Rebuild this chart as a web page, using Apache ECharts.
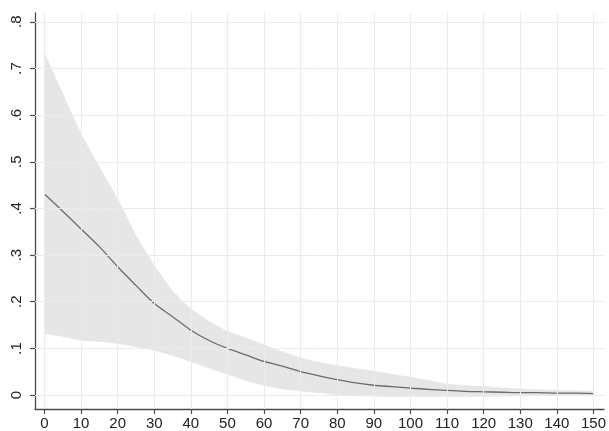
<!DOCTYPE html>
<html>
<head>
<meta charset="utf-8">
<script src="https://cdn.jsdelivr.net/npm/echarts@6/dist/echarts.min.js"></script>
<style>
html,body{margin:0;padding:0;background:#fff;}
#chart{width:609px;height:431px;}
</style>
</head>
<body>
<div id="chart"></div>
<script>
// x positions (every 5 units)
var xValues = [0,5,10,15,20,25,30,35,40,45,50,55,60,65,70,75,80,85,90,95,100,105,110,115,120,125,130,135,140,145,150];
// point estimate
var estimate = [0.431,0.394,0.356,0.318,0.275,0.235,0.196,0.168,0.139,0.117,0.100,0.086,0.072,0.062,0.050,0.041,0.033,0.026,0.021,0.018,0.015,0.012,0.010,0.008,0.007,0.006,0.005,0.005,0.004,0.004,0.003];
// upper confidence bound
var upperCI = [0.733,0.645,0.559,0.488,0.420,0.341,0.277,0.222,0.184,0.157,0.136,0.122,0.107,0.093,0.079,0.070,0.063,0.057,0.051,0.044,0.038,0.031,0.023,0.020,0.018,0.015,0.013,0.011,0.010,0.009,0.008];
// lower confidence bound
var lowerCI = [0.132,0.126,0.117,0.115,0.111,0.104,0.096,0.085,0.072,0.058,0.045,0.031,0.021,0.013,0.009,0.005,0.001,-0.001,-0.002,-0.003,-0.003,-0.003,-0.003,-0.003,-0.003,-0.002,-0.002,-0.001,-0.001,0,0];
// tick values and labels
var xTicks = [0,10,20,30,40,50,60,70,80,90,100,110,120,130,140,150];
var xTickLabels = ['0','10','20','30','40','50','60','70','80','90','100','110','120','130','140','150'];
var yTicks = [0,0.1,0.2,0.3,0.4,0.5,0.6,0.7,0.8];
var yTickLabels = ['0','.1','.2','.3','.4','.5','.6','.7','.8'];

var bandData = xValues.map(function(x,i){ return [x, lowerCI[i], upperCI[i]]; });
var estData = xValues.map(function(x,i){ return [x, estimate[i]]; });

var gridCol = '#ebebeb';
var gridLines = xTicks.map(function(v){ return {xAxis: v}; }).concat(yTicks.map(function(v){ return {yAxis: v}; }));

var bandCol = '#e6e6e6';
function renderBand(params, api){
  var i = params.dataIndex;
  if (i >= bandData.length - 1) return null;
  var a = bandData[i], b = bandData[i+1];
  var pts = [
    api.coord([a[0], a[2]]), api.coord([b[0], b[2]]),
    api.coord([b[0], b[1]]), api.coord([a[0], a[1]])
  ];
  return {
    type: 'polygon',
    shape: {points: pts},
    style: {fill: bandCol, stroke: bandCol, lineWidth: 0.8}
  };
}

var axisCol = '#4a4a4a';
var chart = echarts.init(document.getElementById('chart'), null, {renderer:'canvas'});
chart.setOption({
  animation: false,
  backgroundColor: '#ffffff',
  grid: {left: 35, right: 2, top: 13, bottom: 20, containLabel: false},
  xAxis: {
    type: 'value', min: -2.58, max: 152.85,
    axisLine: {show: true, onZero: false, lineStyle: {color: axisCol, width: 1.3}},
    axisTick: {show: true, length: 5, customValues: xTicks, lineStyle: {color: axisCol, width: 1.2}},
    axisLabel: {show: true, customValues: xTicks, margin: 7, color: '#222', fontSize: 15,
      fontFamily: 'Liberation Sans, Arial, sans-serif',
      formatter: function(v){ var i = xTicks.indexOf(v); return i >= 0 ? xTickLabels[i] : ''; }},
    splitLine: {show: false}
  },
  yAxis: {
    type: 'value', min: -0.0299, max: 0.8188,
    axisLine: {show: true, onZero: false, lineStyle: {color: axisCol, width: 1.3}},
    axisTick: {show: true, length: 5, customValues: yTicks, lineStyle: {color: axisCol, width: 1.2}},
    axisLabel: {show: true, customValues: yTicks, margin: 11, rotate: 90, color: '#222', fontSize: 15,
      fontFamily: 'Liberation Sans, Arial, sans-serif',
      formatter: function(v){
        for (var i = 0; i < yTicks.length; i++) { if (Math.abs(yTicks[i]-v) < 1e-9) return yTickLabels[i]; }
        return '';
      }},
    splitLine: {show: false}
  },
  series: [
    {
      type: 'line', name: 'grid', data: estData, symbol: 'none', z: 1,
      lineStyle: {opacity: 0, width: 0}, silent: true,
      markLine: {silent: true, symbol: ['none','none'], label: {show: false},
        lineStyle: {color: gridCol, width: 1, type: 'solid', opacity: 1},
        emphasis: {disabled: true}, data: gridLines}
    },
    {
      type: 'custom', name: 'band', data: bandData, z: 2, silent: true,
      encode: {x: 0, y: [1, 2]},
      renderItem: renderBand
    },
    {
      type: 'line', name: 'estimate', data: estData, symbol: 'none', z: 3, smooth: 0.3,
      lineStyle: {color: '#6b6b6b', width: 1.3}, silent: true
    }
  ]
});
</script>
</body>
</html>
